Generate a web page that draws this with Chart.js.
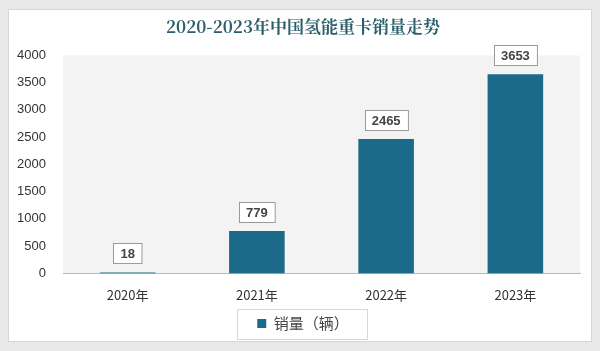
<!DOCTYPE html>
<html><head><meta charset="utf-8">
<script src="https://cdn.jsdelivr.net/npm/chart.js@4"></script>
<style>html,body{margin:0;padding:0;background:#e9e9e9;}#c{display:block;}</style>
</head><body>
<canvas id="c" width="600" height="351"></canvas>
<script>
const categories = ["2020年", "2021年", "2022年", "2023年"];
const sales = [18, 779, 2465, 3653];
const yTicks = [0, 500, 1000, 1500, 2000, 2500, 3000, 3500, 4000];
const seriesName = "销量（辆）";
const titleText = "2020-2023年中国氢能重卡销量走势";

const cardPlugin = {
  id: 'card',
  beforeDraw(chart) {
    const ctx = chart.ctx;
    ctx.save();
    ctx.fillStyle = '#e9e9e9';
    ctx.fillRect(0, 0, chart.width, chart.height);
    ctx.fillStyle = '#ffffff';
    ctx.fillRect(8, 9, chart.width - 16, chart.height - 18);
    ctx.strokeStyle = '#d6d6d6';
    ctx.lineWidth = 1;
    ctx.strokeRect(8.5, 9.5, chart.width - 17, chart.height - 19);
    const a = chart.chartArea;
    ctx.fillStyle = '#f3f3f3';
    ctx.fillRect(a.left, a.top, a.right - a.left, a.bottom - a.top);
    ctx.restore();
  }
};

const labelPlugin = {
  id: 'boxLabels',
  afterDatasetsDraw(chart) {
    const ctx = chart.ctx;
    const meta = chart.getDatasetMeta(0);
    ctx.save();
    ctx.font = 'bold 13px "Liberation Sans", Arial, sans-serif';
    ctx.textAlign = 'center';
    ctx.textBaseline = 'middle';
    meta.data.forEach((bar, i) => {
      const txt = String(chart.data.datasets[0].data[i]);
      const w = ctx.measureText(txt).width + 14;
      const h = 20;
      const cx = bar.x;
      const bottom = bar.y - 9;
      const x0 = Math.round(cx - w / 2) + 0.5, y0 = Math.round(bottom - h) + 0.5;
      ctx.fillStyle = '#ffffff';
      ctx.fillRect(x0, y0, w, h);
      ctx.strokeStyle = '#9a9a9a';
      ctx.lineWidth = 1;
      ctx.strokeRect(x0, y0, w, h);
      ctx.fillStyle = '#444444';
      ctx.fillText(txt, cx, y0 + h / 2 + 0.5);
    });
    const lg = chart.legend;
    if (lg && lg.legendHitBoxes && lg.legendHitBoxes.length) {
      const hb = lg.legendHitBoxes[0];
      ctx.strokeStyle = '#d8d8d8';
      ctx.strokeRect(Math.round(hb.left - 20) + 0.5, Math.round(hb.top + hb.height / 2 - 15) + 0.5, Math.round(hb.width + 38), 30);
    }
    ctx.restore();
  }
};

new Chart(document.getElementById('c'), {
  type: 'bar',
  data: {
    labels: categories,
    datasets: [{
      label: seriesName,
      data: sales,
      backgroundColor: '#1c6a8a',
      borderWidth: 0,
      barPercentage: 0.43,
      categoryPercentage: 1.0
    }]
  },
  options: {
    responsive: false,
    animation: false,
    devicePixelRatio: 1,
    layout: { padding: { left: 6, right: 0, top: 8, bottom: 10 } },
    plugins: {
      title: {
        display: true,
        text: titleText,
        color: '#2b5f6c',
        font: { family: '"Noto Serif CJK SC", "Noto Sans CJK SC", serif', size: 17, weight: 'bold' },
        padding: { top: 8, bottom: 19 }
      },
      legend: {
        display: true,
        position: 'bottom',
        labels: {
          boxWidth: 9, boxHeight: 9,
          color: '#444444',
          font: { family: '"Noto Sans CJK SC", sans-serif', size: 15 },
          padding: 3
        }
      },
      tooltip: { enabled: false }
    },
    scales: {
      x: {
        afterFit(scale) { scale.height -= 4; },
        grid: { display: false, drawTicks: false },
        border: { display: true, color: '#b8b8b8', width: 1 },
        ticks: { color: '#333333', font: { family: '"Noto Sans CJK SC", sans-serif', size: 13 }, padding: 14 }
      },
      y: {
        min: 0, max: 4000,
        afterBuildTicks(scale) { scale.ticks = yTicks.map(v => ({ value: v })); },
        afterFit(scale) { scale.width = 57; },
        grid: { display: false, drawTicks: false },
        border: { display: false },
        ticks: {
          color: '#333333',
          font: { family: '"Liberation Sans", Arial, sans-serif', size: 13 },
          padding: 17,
          callback: (v) => String(v)
        }
      },
      yRight: {
        position: 'right',
        min: 0, max: 4000,
        afterFit(scale) { scale.width = 20; },
        grid: { display: false, drawTicks: false },
        border: { display: false },
        ticks: { display: false }
      }
    }
  },
  plugins: [cardPlugin, labelPlugin]
});
</script>
</body></html>
